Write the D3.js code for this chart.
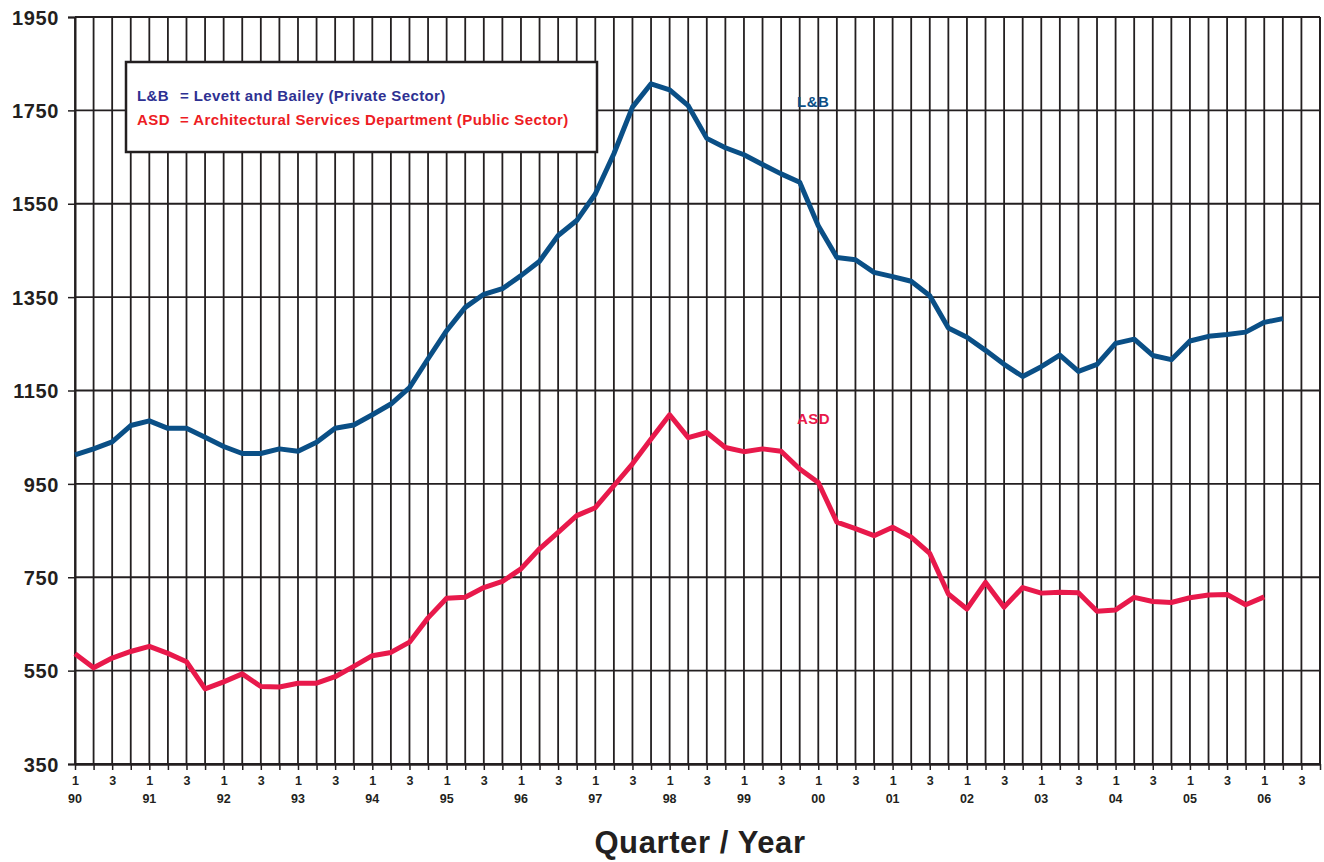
<!DOCTYPE html>
<html>
<head>
<meta charset="utf-8">
<script src="https://cdn.jsdelivr.net/npm/d3@7"></script>
<style>
  body { margin: 0; background: #fff; }
  svg { display: block; font-family: "Liberation Sans", Arial, Helvetica, sans-serif; }
  .y-axis text { font-size: 20px; font-weight: bold; fill: #231f20; letter-spacing: 0.6px; }
  .x-axis text { font-size: 12.5px; font-weight: bold; fill: #231f20; }
</style>
</head>
<body>
<div id="chart"></div>
<script>
// year labels, one per year from 1990 to 2006
const years = ["90", "91", "92", "93", "94", "95", "96", "97", "98", "99", "00", "01", "02", "03", "04", "05", "06"];
// quarters that get a label under the axis
const shownQuarters = [1, 3];
const yTicks = [350, 550, 750, 950, 1150, 1350, 1550, 1750, 1950];

// quarterly index, starting at 1990 Q1
const lbValues = [1012, 1025, 1040, 1075, 1085, 1069, 1069, 1050, 1030, 1015, 1015, 1025, 1020, 1039, 1069, 1076,
    1098, 1121, 1156, 1218, 1278, 1328, 1356, 1368, 1396, 1427, 1482, 1514, 1571, 1657, 1757, 1807,
    1794, 1760, 1690, 1670, 1655, 1634, 1614, 1596, 1503, 1435, 1430, 1403, 1394, 1384, 1353, 1284,
    1264, 1236, 1206, 1180, 1201, 1226, 1191, 1206, 1251, 1260, 1225, 1216, 1256, 1266, 1270, 1275,
    1296, 1304];
const asdValues = [586, 556, 577, 591, 602, 587, 569, 511, 526, 543, 516, 515, 523, 523, 537, 559,
    582, 589, 611, 663, 705, 707, 728, 741, 768, 811, 846, 882, 899, 946, 993, 1046,
    1098, 1049, 1060, 1028, 1019, 1025, 1020, 982, 953, 868, 854, 839, 857, 836, 801, 714,
    682, 739, 686, 728, 716, 718, 717, 677, 680, 707, 698, 696, 706, 712, 713, 691,
    708];

const lbColor = "#0a4f86";
const asdColor = "#e8194b";
const gridColor = "#231f20";

const W = 1324, H = 862;
const margin = { top: 17, right: 4, bottom: 98, left: 75 };
const width = W - margin.left - margin.right;
const height = H - margin.top - margin.bottom;
const nQuarters = years.length * 4 - 1; // last tick is 06 Q4

const svg = d3.select("#chart")
    .append("svg")
    .attr("width", W)
    .attr("height", H);

const g = svg.append("g")
    .attr("transform", `translate(${margin.left},${margin.top})`);

const x = d3.scaleLinear().domain([0, nQuarters]).range([0, width]);
const y = d3.scaleLinear().domain([350, 1950]).range([height, 0]);

// vertical grid, one line per quarter
g.append("g")
    .selectAll("line")
    .data(d3.range(0, nQuarters + 1))
    .join("line")
    .attr("x1", d => x(d)).attr("x2", d => x(d))
    .attr("y1", 0).attr("y2", height)
    .attr("stroke", gridColor)
    .attr("stroke-width", 1.8);

// horizontal grid
g.append("g")
    .selectAll("line")
    .data(yTicks)
    .join("line")
    .attr("x1", 0).attr("x2", width)
    .attr("y1", d => y(d)).attr("y2", d => y(d))
    .attr("stroke", gridColor)
    .attr("stroke-width", 1.8);

// Y axis
const yAxis = g.append("g")
    .attr("class", "y-axis")
    .call(d3.axisLeft(y).tickValues(yTicks).tickSize(7).tickPadding(10).tickFormat(d3.format("d")));
yAxis.select(".domain").attr("stroke", gridColor).attr("stroke-width", 2);
yAxis.selectAll(".tick line").attr("stroke", gridColor).attr("stroke-width", 1.5);
yAxis.selectAll("text").attr("dy", "0.36em").attr("dx", "1px");

// X axis: quarter ticks, labels for Q1 and Q3
const xAxis = g.append("g")
    .attr("class", "x-axis")
    .attr("transform", `translate(0,${height})`)
    .call(d3.axisBottom(x)
        .tickValues(d3.range(0, nQuarters + 1))
        .tickSize(6)
        .tickPadding(6)
        .tickSizeOuter(0)
        .tickFormat(d => shownQuarters.includes(d % 4 + 1) ? String(d % 4 + 1) : ""));
xAxis.select(".domain").attr("stroke", gridColor).attr("stroke-width", 2.5);
xAxis.selectAll(".tick line").attr("stroke", gridColor).attr("stroke-width", 1.5);

// year labels under the Q1 ticks
xAxis.selectAll(".year-label")
    .data(years)
    .join("text")
    .attr("class", "year-label")
    .attr("x", (d, i) => x(i * 4))
    .attr("y", 39)
    .attr("text-anchor", "middle")
    .attr("fill", gridColor)
    .text(d => d);

// right border of the plot
g.append("line")
    .attr("x1", width).attr("x2", width)
    .attr("y1", 0).attr("y2", height)
    .attr("stroke", gridColor)
    .attr("stroke-width", 2);

// lines
const line = d3.line()
    .x((d, i) => x(i))
    .y(d => y(d));

g.append("path")
    .datum(lbValues)
    .attr("fill", "none")
    .attr("stroke", lbColor)
    .attr("stroke-width", 5)
    .attr("stroke-linejoin", "round")
    .attr("d", line);

g.append("path")
    .datum(asdValues)
    .attr("fill", "none")
    .attr("stroke", asdColor)
    .attr("stroke-width", 5)
    .attr("stroke-linejoin", "round")
    .attr("d", line);

// series labels
g.append("text")
    .attr("x", x(38.86)).attr("y", y(1757))
    .attr("fill", lbColor)
    .attr("font-size", 15).attr("font-weight", "bold").attr("letter-spacing", 0.4)
    .text("L&B");
g.append("text")
    .attr("x", x(38.86)).attr("y", y(1078))
    .attr("fill", asdColor)
    .attr("font-size", 15).attr("font-weight", "bold").attr("letter-spacing", 0.4)
    .text("ASD");

// legend box
const legend = g.append("g").attr("transform", "translate(51,45)");
legend.append("rect")
    .attr("width", 471).attr("height", 90)
    .attr("fill", "#fff")
    .attr("stroke", gridColor)
    .attr("stroke-width", 2.5);
const legendRows = [
    { key: "L&B", text: "= Levett and Bailey (Private Sector)", color: "#2e3192" },
    { key: "ASD", text: "= Architectural Services Department (Public Sector)", color: "#ed1c24" }
];
legendRows.forEach((r, i) => {
    legend.append("text")
        .attr("x", 11).attr("y", 39 + i * 24)
        .attr("fill", r.color)
        .attr("font-size", 15).attr("font-weight", "bold").attr("letter-spacing", 0.4)
        .text(r.key);
    legend.append("text")
        .attr("x", 54).attr("y", 39 + i * 24)
        .attr("fill", r.color)
        .attr("font-size", 15).attr("font-weight", "bold").attr("letter-spacing", 0.4)
        .text(r.text);
});

// axis title
svg.append("text")
    .attr("x", 700).attr("y", 853)
    .attr("text-anchor", "middle")
    .attr("fill", gridColor)
    .attr("font-size", 31).attr("font-weight", "bold").attr("letter-spacing", 0.6)
    .text("Quarter / Year");
</script>
</body>
</html>
